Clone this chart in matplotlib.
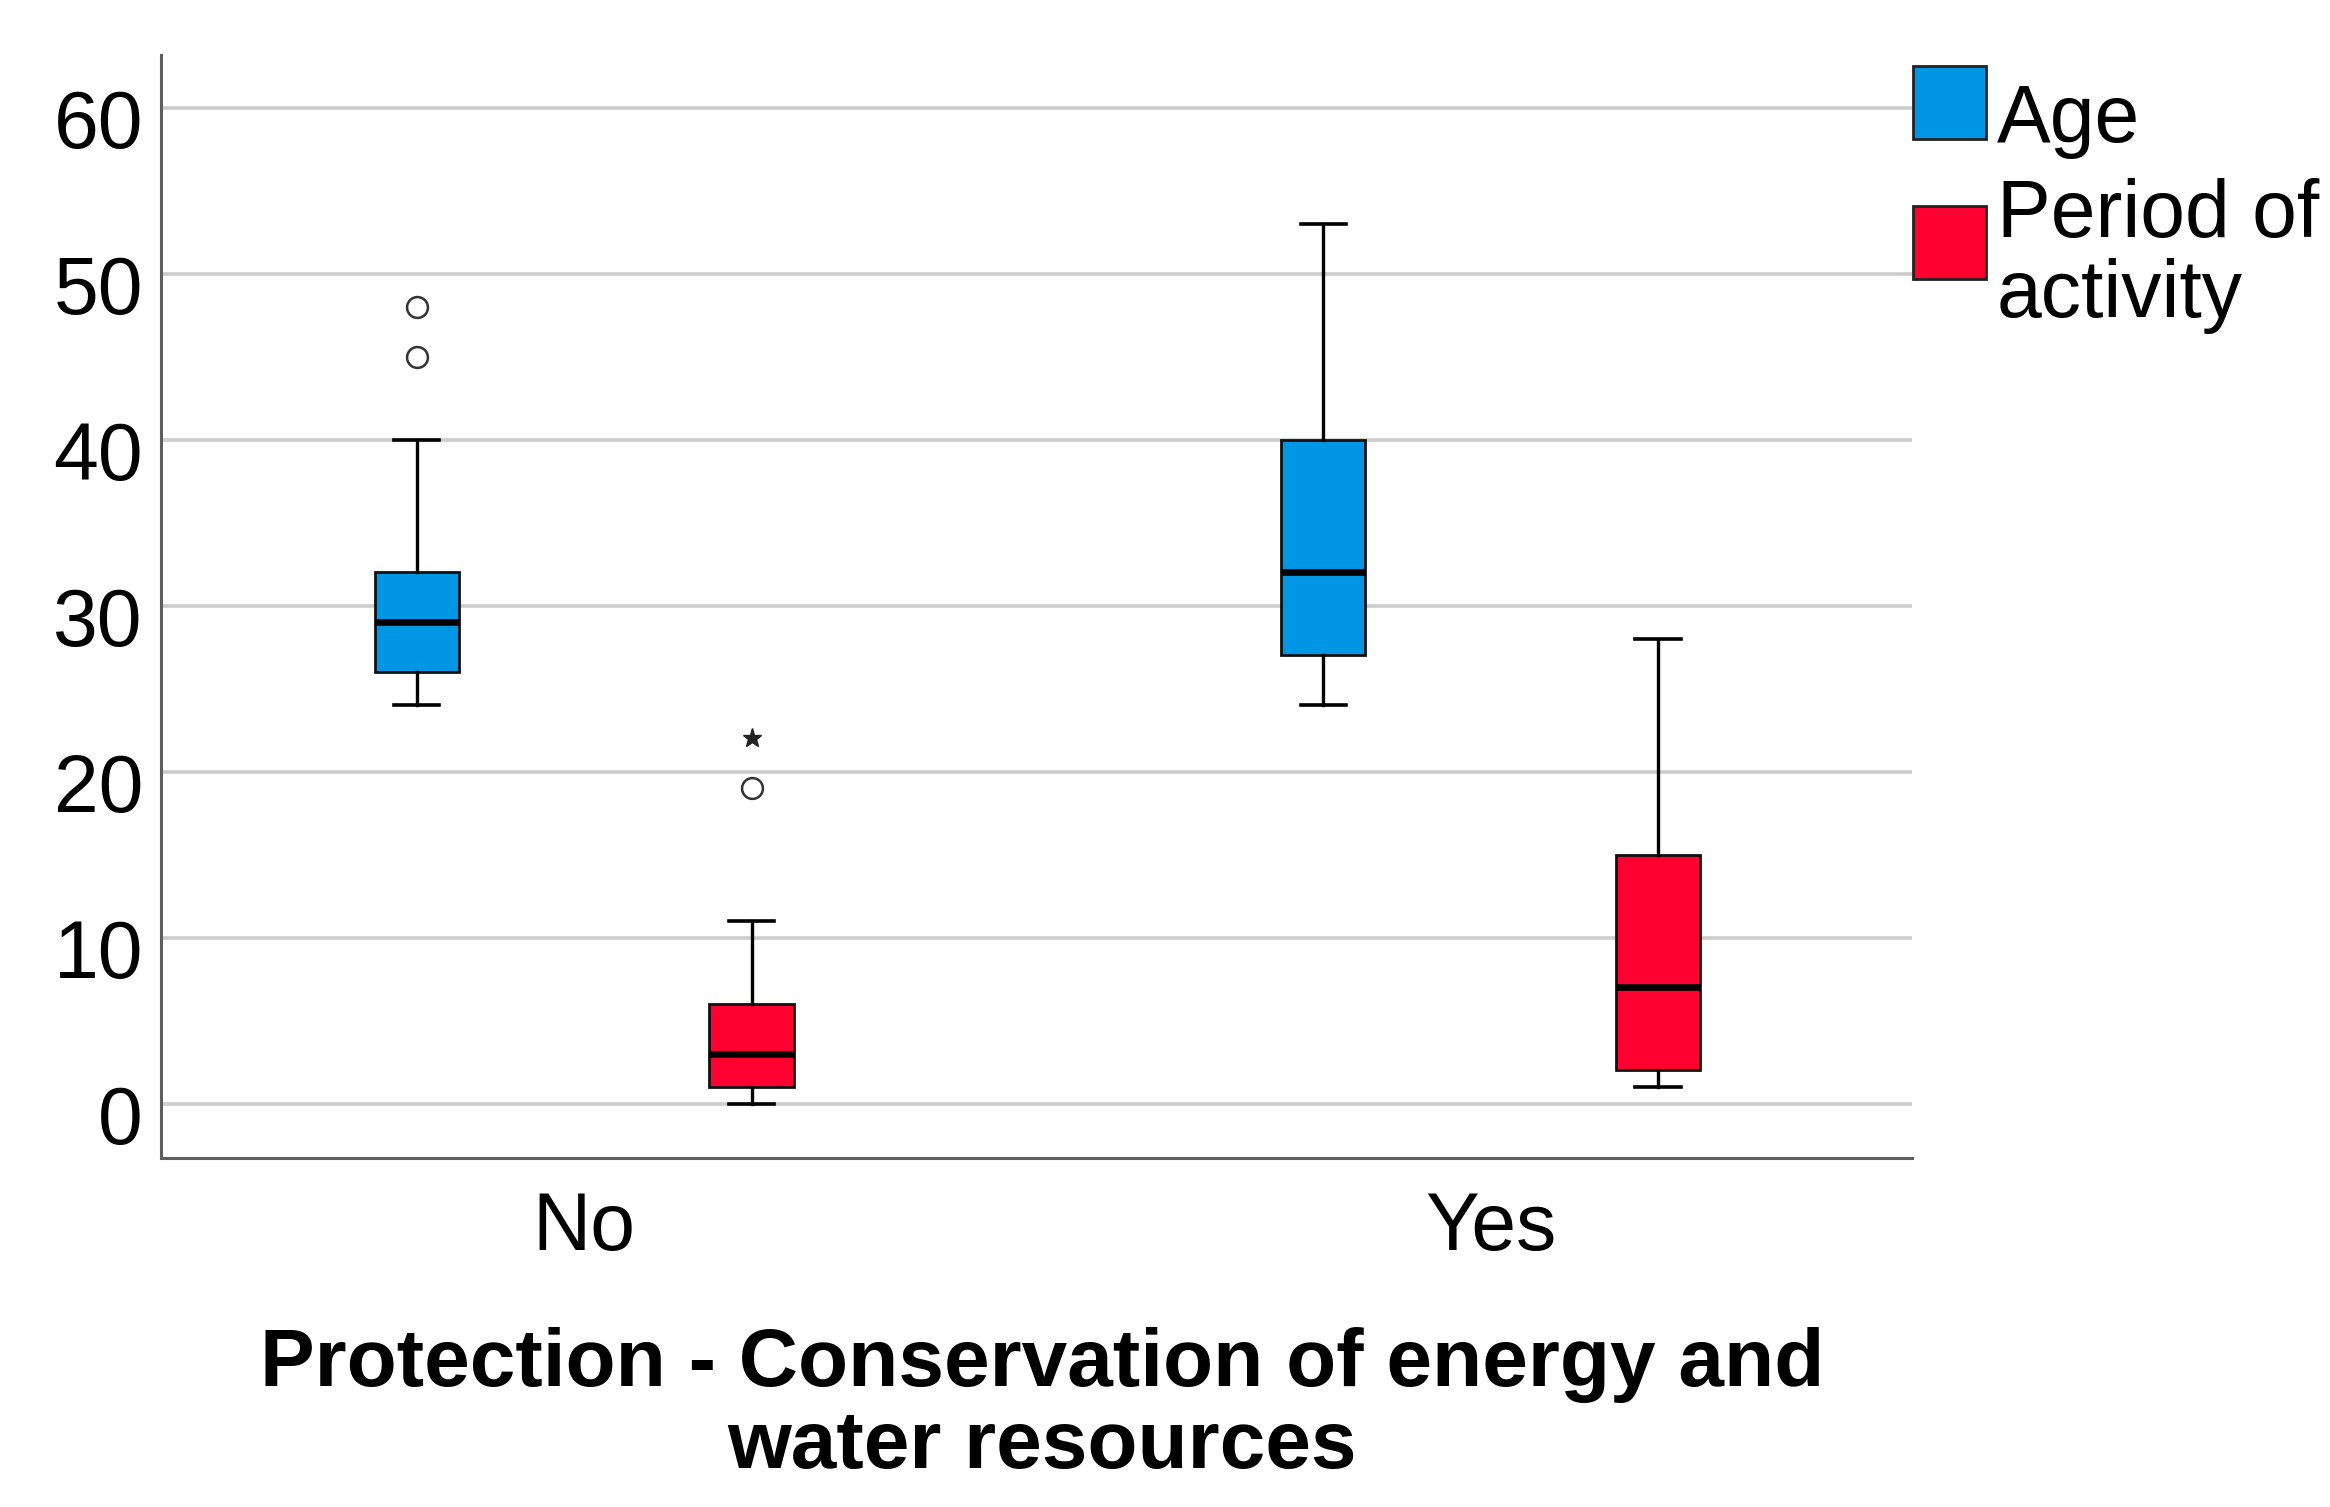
import matplotlib
matplotlib.use("Agg")
import matplotlib.pyplot as plt
from matplotlib.patches import Rectangle
from matplotlib.transforms import ScaledTranslation

# ---- data ----
categories = ["No", "Yes"]
series = ["Age", "Period of\nactivity"]
colors = ["#0096E6", "#FF0030"]
# per series, per category: whisker low, q1, median, q3, whisker high
age_stats = [[24, 26, 29, 32, 40], [24, 27, 32, 40, 53]]
period_stats = [[0, 1, 3, 6, 11], [1, 2, 7, 15, 28]]
age_outliers = [[45, 48], []]
period_outliers = [[19], []]
age_extremes = [[], []]
period_extremes = [[22], []]
yticks = [0, 10, 20, 30, 40, 50, 60]
xlabel = "Protection - Conservation of energy and\nwater resources"

plt.rcParams['font.family'] = ['Liberation Sans', 'DejaVu Sans']

W, H = 2330, 1507
fig = plt.figure(figsize=(W / 100, H / 100), dpi=100)
ax = fig.add_axes([161 / W, 1 - 1158 / H, (1912 - 161) / W, (1158 - 55) / H])

offset = 0.1847
box_w = 0.093
all_stats = [age_stats, period_stats]
all_out = [age_outliers, period_outliers]
all_ext = [age_extremes, period_extremes]
for si, (stats, outs, exts) in enumerate(zip(all_stats, all_out, all_ext)):
    pos = [ci + (offset if si == 1 else -offset) for ci in range(len(categories))]
    bstats = []
    for ci, s in enumerate(stats):
        bstats.append(dict(whislo=s[0], q1=s[1], med=s[2], q3=s[3], whishi=s[4],
                           fliers=outs[ci]))
    ax.bxp(bstats, positions=pos, widths=box_w, patch_artist=True,
           showfliers=True, capwidths=0.05,
           boxprops=dict(facecolor=colors[si], edgecolor="#111111", linewidth=2.0),
           medianprops=dict(color="black", linewidth=4.8, solid_capstyle="butt"),
           whiskerprops=dict(color="black", linewidth=2.4),
           capprops=dict(color="black", linewidth=2.6),
           flierprops=dict(marker="o", markersize=15, markerfacecolor="none",
                           markeredgecolor="#333333", markeredgewidth=1.8))
    for ci, e in enumerate(exts):
        if e:
            ax.plot([pos[ci]] * len(e), e, linestyle="none", marker="*",
                    markersize=14, color="#222222")

ax.set_xlim(-0.4669, 1.4648)
ax.set_ylim(-3.28, 63.17)
ax.set_yticks(yticks)
ax.set_yticklabels([str(v) for v in yticks])
ax.set_xticks(range(len(categories)))
ax.set_xticklabels(categories)
ax.yaxis.grid(True, color="#CCCCCC", linewidth=2.6)
ax.set_axisbelow(True)
for sp in ["top", "right"]:
    ax.spines[sp].set_visible(False)
for sp in ["left", "bottom"]:
    ax.spines[sp].set_color("#5E5E5E")
    ax.spines[sp].set_linewidth(2.2)
ax.tick_params(axis="both", length=0, labelsize=58, colors="black")
ax.tick_params(axis="y", pad=13)
ax.tick_params(axis="x", pad=24)
for lab in ax.get_yticklabels():
    lab.set_transform(lab.get_transform() + ScaledTranslation(0, -11 / 100, fig.dpi_scale_trans))

# multi-line text with va='baseline' aligns the last line
fig.text(1042 / W, 1 - 1468 / H, xlabel, ha="center", va="baseline",
         multialignment="center", fontsize=59, fontweight="bold", linespacing=1.11)

# legend
lx0, lw = 1912.7 / W, 73.3 / W
lh = 73 / H
for i, (name, col, ytop) in enumerate(zip(series, colors, [66, 205.7])):
    fig.add_artist(Rectangle((lx0, 1 - (ytop + 73) / H), lw, lh, transform=fig.transFigure,
                             facecolor=col, edgecolor="#222222", linewidth=2))
fig.text(1996.7 / W, 1 - 141.7 / H, series[0], ha="left", va="baseline", fontsize=58)
fig.text(1996.7 / W, 1 - 316.7 / H, series[1], ha="left", va="baseline", fontsize=58,
         linespacing=1.06)

fig.savefig("out.png", dpi=100)
